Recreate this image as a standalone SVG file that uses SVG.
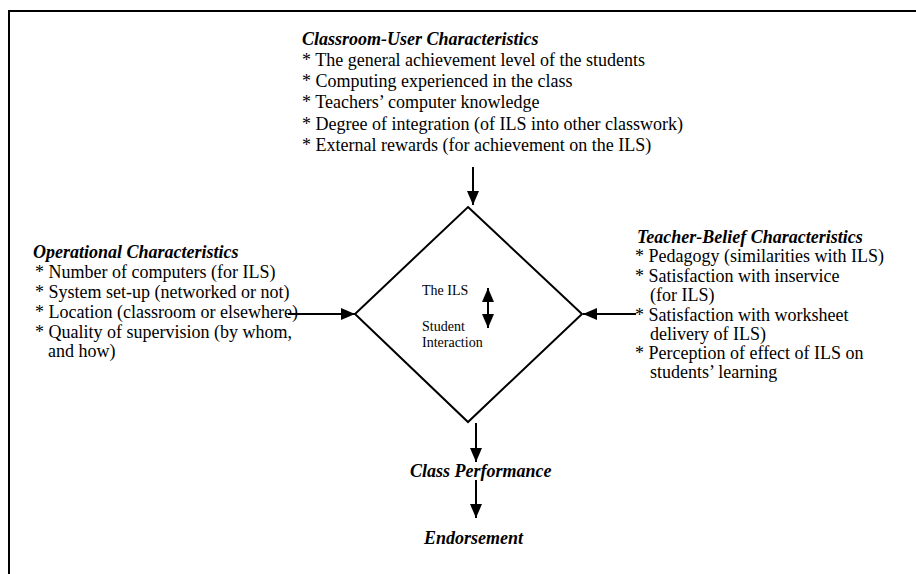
<svg xmlns="http://www.w3.org/2000/svg" width="916" height="574" viewBox="0 0 916 574">
<style>
text{font-family:"Liberation Serif","Times New Roman",serif;fill:#000}
.b{font-size:18px}
.h{font-size:18px;font-weight:bold;font-style:italic}
.s{font-size:14px}
.ln{stroke:#000;stroke-width:2;fill:none}
</style>
<defs>
<marker id="ah" viewBox="0 0 14 12" refX="14" refY="6" markerWidth="14" markerHeight="12" markerUnits="userSpaceOnUse" orient="auto-start-reverse">
<path d="M0,0 L14,6 L0,12 z" fill="#000"/>
</marker>
</defs>
<rect width="916" height="574" fill="#fff"/>
<g id="frame"><path class="ln" d="M9,574 V11 H916"/></g>
<g id="classroom">
<text class="h" x="302" y="45">Classroom-User Characteristics</text>
<text class="b" x="302" y="66">* The general achievement level of the students</text>
<text class="b" x="302" y="87">* Computing experienced in the class</text>
<text class="b" x="302" y="108">* Teachers’ computer knowledge</text>
<text class="b" x="302" y="130">* Degree of integration (of ILS into other classwork)</text>
<text class="b" x="302" y="151">* External rewards (for achievement on the ILS)</text>
</g>
<g id="operational">
<text class="h" x="33" y="258">Operational Characteristics</text>
<text class="b" x="35" y="278">* Number of computers (for ILS)</text>
<text class="b" x="35" y="298">* System set-up (networked or not)</text>
<text class="b" x="35" y="318">* Location (classroom or elsewhere)</text>
<text class="b" x="35" y="338">* Quality of supervision (by whom,</text>
<text class="b" x="48" y="357">and how)</text>
</g>
<g id="teacher">
<text class="h" x="637" y="243">Teacher-Belief Characteristics</text>
<text class="b" x="635" y="262">* Pedagogy (similarities with ILS)</text>
<text class="b" x="635" y="282">* Satisfaction with inservice</text>
<text class="b" x="650" y="301">(for ILS)</text>
<text class="b" x="635" y="321">* Satisfaction with worksheet</text>
<text class="b" x="650" y="340">delivery of ILS)</text>
<text class="b" x="635" y="359">* Perception of effect of ILS on</text>
<text class="b" x="650" y="378">students’ learning</text>
</g>
<g id="ils">
<path class="ln" d="M468,207 L582,314 L468,422 L355,314 Z"/>
<text class="s" x="422" y="295">The ILS</text>
<text class="s" x="422" y="331">Student</text>
<text class="s" x="422" y="347">Interaction</text>
<line class="ln" x1="488" y1="288" x2="488" y2="328" marker-start="url(#ah)" marker-end="url(#ah)"/>
</g>
<g id="performance"><text class="h" x="410" y="477">Class Performance</text></g>
<g id="endorsement"><text class="h" x="424" y="544">Endorsement</text></g>
<g id="connectors">
<line class="ln" x1="473" y1="167" x2="473" y2="205" marker-end="url(#ah)"/>
<line class="ln" x1="288" y1="314" x2="355" y2="314" marker-end="url(#ah)"/>
<line class="ln" x1="636" y1="314" x2="583" y2="314" marker-end="url(#ah)"/>
<line class="ln" x1="476" y1="423" x2="476" y2="462" marker-end="url(#ah)"/>
<line class="ln" x1="476" y1="480" x2="476" y2="518" marker-end="url(#ah)"/>
</g>
</svg>
